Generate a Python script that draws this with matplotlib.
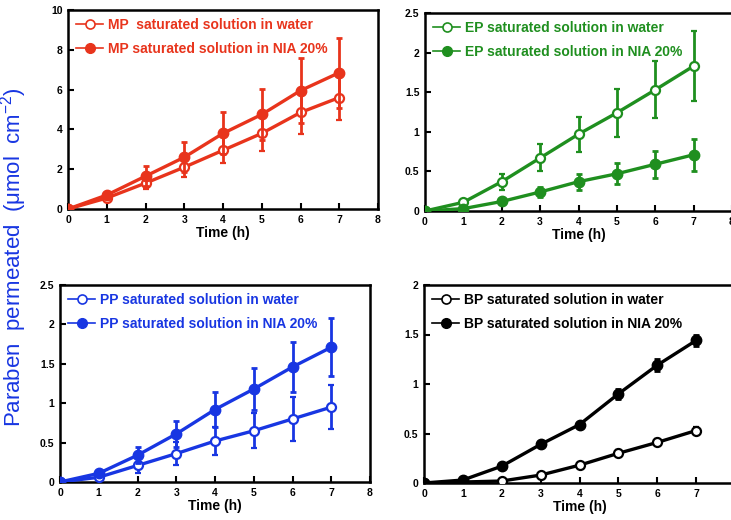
import matplotlib
matplotlib.use("Agg")
import matplotlib.pyplot as plt
from matplotlib.lines import Line2D

plt.rcParams["font.family"] = ["Liberation Sans", "DejaVu Sans"]
plt.rcParams["mathtext.fontset"] = "custom"
plt.rcParams["mathtext.rm"] = "Liberation Sans"

hours = [0, 1, 2, 3, 4, 5, 6, 7]

# MP
mp_water = [0, 0.55, 1.3, 2.1, 2.95, 3.8, 4.85, 5.6]
mp_water_err = [0, 0.1, 0.3, 0.5, 0.65, 0.9, 1.1, 1.15]
mp_nia = [0, 0.7, 1.65, 2.6, 3.8, 4.75, 5.95, 6.85]
mp_nia_err = [0, 0.15, 0.5, 0.75, 1.05, 1.26, 1.65, 1.75]

# EP
ep_water = [0, 0.11, 0.37, 0.67, 0.97, 1.24, 1.53, 1.83]
ep_water_err = [0, 0.03, 0.1, 0.17, 0.22, 0.3, 0.36, 0.44]
ep_nia = [0, 0.03, 0.12, 0.24, 0.37, 0.47, 0.59, 0.71]
ep_nia_err = [0, 0.01, 0.03, 0.06, 0.1, 0.13, 0.17, 0.2]

# PP
pp_water = [0, 0.06, 0.21, 0.36, 0.52, 0.65, 0.8, 0.95]
pp_water_err = [0, 0.02, 0.1, 0.15, 0.18, 0.22, 0.28, 0.28]
pp_nia = [0, 0.11, 0.34, 0.61, 0.92, 1.18, 1.46, 1.71]
pp_nia_err = [0, 0.02, 0.1, 0.17, 0.22, 0.27, 0.32, 0.37]

# BP
bp_water = [0, 0.01, 0.02, 0.08, 0.18, 0.3, 0.41, 0.53]
bp_water_err = [0, 0.01, 0.01, 0.02, 0.02, 0.03, 0.03, 0.04]
bp_nia = [0, 0.03, 0.17, 0.39, 0.59, 0.9, 1.19, 1.44]
bp_nia_err = [0, 0.01, 0.02, 0.03, 0.02, 0.05, 0.06, 0.06]

panels = [
    # name, water, water_err, nia, nia_err, color, ymax, yticks, ticklabels, rect(px: left, top, right, bottom)
    ("MP", mp_water, mp_water_err, mp_nia, mp_nia_err, "#e8341c", 10,
     [0, 2, 4, 6, 8, 10], ["0", "2", "4", "6", "8", "10"], (68, 10, 378, 209), "MP  saturated solution in water"),
    ("EP", ep_water, ep_water_err, ep_nia, ep_nia_err, "#1f8f1f", 2.5,
     [0, 0.5, 1, 1.5, 2, 2.5], ["0", "0.5", "1", "1.5", "2", "2.5"], (425, 13, 732, 211), "EP saturated solution in water"),
    ("PP", pp_water, pp_water_err, pp_nia, pp_nia_err, "#1836e2", 2.5,
     [0, 0.5, 1, 1.5, 2, 2.5], ["0", "0.5", "1", "1.5", "2", "2.5"], (60, 285, 370, 482), "PP saturated solution in water"),
    ("BP", bp_water, bp_water_err, bp_nia, bp_nia_err, "#000000", 2,
     [0, 0.5, 1, 1.5, 2], ["0", "0.5", "1", "1.5", "2"], (424, 285, 735, 483), "BP saturated solution in water"),
]

W, H = 731, 520
fig = plt.figure(figsize=(W / 100, H / 100), dpi=100)

for name, water, werr, nia, nerr, col, ymax, yt, ytl, (l, t, r, b), wlabel in panels:
    ax = fig.add_axes([l / W, (H - b) / H, (r - l) / W, (b - t) / H])
    ax.errorbar(hours, water, yerr=werr, color=col, lw=2.4, marker="o", ms=6.5,
                mfc="white", mec=col, mew=1.6, capsize=2.5, elinewidth=2, capthick=2,
                zorder=3)
    ax.errorbar(hours, nia, yerr=nerr, color=col, lw=2.4, marker="o", ms=7.5,
                mfc=col, mec=col, capsize=2.5, elinewidth=2, capthick=2,
                zorder=4)
    ax.set_xlim(0, 8)
    ax.set_ylim(0, ymax)
    ax.set_xticks(range(9))
    ax.set_xticklabels([str(i) for i in range(9)], fontsize=7.5, fontweight="bold")
    ax.set_yticks(yt)
    ax.set_yticklabels(ytl, fontsize=7.5, fontweight="bold")
    ax.tick_params(direction="in", length=4, width=1.5, pad=4)
    for s in ax.spines.values():
        s.set_linewidth(1.8)
    ax.set_xlabel("Time (h)", fontsize=10, fontweight="bold", labelpad=1)
    handles = [
        Line2D([], [], color=col, lw=1.2, marker="o", ms=6.5, mfc="white", mec=col, mew=1.2),
        Line2D([], [], color=col, lw=1.2, marker="o", ms=7, mfc=col, mec=col),
    ]
    leg = ax.legend(handles, [wlabel, f"{name} saturated solution in NIA 20%"],
                    loc="upper left", frameon=False, handlelength=2.0, handletextpad=0.3,
                    borderaxespad=0.15, labelspacing=0.75, prop={"weight": "bold", "size": 10})
    for txt in leg.get_texts():
        txt.set_color(col)

fig.text(14 / W, 1 - 257 / H, "Paraben  permeated  (μmol  cm$^{-2}$)", rotation=90,
         color="#1836e2", fontsize=16, ha="center", va="center")

fig.savefig("out.png", dpi=100)
